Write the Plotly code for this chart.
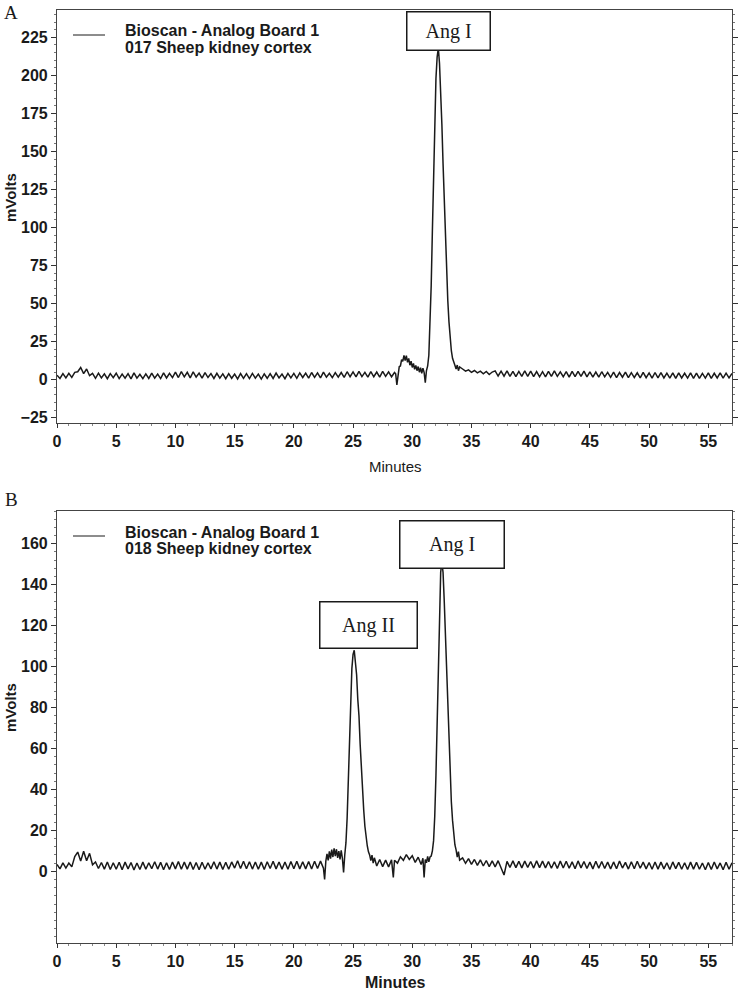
import plotly.graph_objects as go

# ---------------- data ----------------
# Panel A : 017 Sheep kidney cortex
time_a_base = [0, 0.25, 0.5, 0.75, 1, 1.25, 1.5, 1.75, 2, 2.25, 2.5, 2.75,
               3, 3.25, 3.5, 3.75, 4, 4.25, 4.5, 4.75, 5, 5.25, 5.5, 5.75,
               6, 6.25, 6.5, 6.75, 7, 7.25, 7.5, 7.75, 8, 8.25, 8.5, 8.75,
               9, 9.25, 9.5, 9.75, 10, 10.25, 10.5, 10.75, 11, 11.25, 11.5, 11.75,
               12, 12.25, 12.5, 12.75, 13, 13.25, 13.5, 13.75, 14, 14.25, 14.5, 14.75,
               15, 15.25, 15.5, 15.75, 16, 16.25, 16.5, 16.75, 17, 17.25, 17.5, 17.75,
               18, 18.25, 18.5, 18.75, 19, 19.25, 19.5, 19.75, 20, 20.25, 20.5, 20.75,
               21, 21.25, 21.5, 21.75, 22, 22.25, 22.5, 22.75, 23, 23.25, 23.5, 23.75,
               24, 24.25, 24.5, 24.75, 25, 25.25, 25.5, 25.75, 26, 26.25, 26.5, 26.75,
               27, 27.25, 27.5, 27.75, 28, 28.25, 28.5]
mv_a_base = [2.9, 0.8, 4.0, 1.2, 4.2, 1.5, 4.8, 5.2, 8.0, 4.0, 7.0, 2.6,
             4.1, 0.9, 4.3, 1.1, 3.8, 0.6, 4.0, 1.3, 4.2, 0.7, 3.6, 0.9,
             3.9, 0.5, 4.4, 1.0, 3.5, 0.6, 3.8, 0.8, 4.3, 1.0, 3.7, 0.7,
             4.5, 1.1, 4.1, 1.3, 5.0, 1.4, 5.3, 1.8, 4.8, 1.2, 5.1, 1.7,
             4.3, 1.0, 4.6, 1.4, 4.0, 0.8, 4.2, 1.0, 3.8, 0.6, 3.9, 0.9,
             3.7, 0.5, 4.0, 0.8, 3.9, 0.7, 4.1, 1.0, 3.6, 0.4, 3.8, 0.9,
             4.0, 0.8, 4.3, 1.1, 3.7, 0.6, 4.1, 1.2, 4.1, 0.9, 4.4, 1.4,
             4.3, 1.0, 4.7, 1.5, 4.5, 1.2, 4.9, 1.6, 4.2, 1.3, 4.6, 1.7,
             4.7, 1.5, 5.2, 1.9, 5.1, 1.8, 5.5, 2.0, 4.8, 1.6, 5.3, 1.9,
             5.0, 1.7, 5.4, 2.1, 5.1, 1.9, 4.7]
time_a_peak = [28.6, 28.7, 28.8, 28.9, 29.0, 29.1, 29.2, 29.3, 29.4, 29.5,
               29.6, 29.7, 29.8, 29.9, 30.0, 30.1, 30.2, 30.3, 30.4, 30.5,
               30.6, 30.7, 30.8, 30.9, 31.0, 31.1, 31.2, 31.3, 31.4, 31.5,
               31.6, 31.7, 31.8, 31.9, 32.0, 32.1, 32.2, 32.3, 32.4, 32.5,
               32.6, 32.7, 32.8, 32.9, 33.0, 33.1, 33.2, 33.3, 33.4, 33.5,
               33.6, 33.7, 33.8, 33.9, 34.0]
mv_a_peak = [3.8, -3.5, 5.0, 8.5, 9.0, 13.2, 12.0, 16.0, 12.6, 15.8,
             11.4, 14.0, 9.5, 12.2, 8.0, 10.6, 6.8, 9.4, 5.9, 8.6,
             4.9, 7.8, 4.2, 7.5, 4.8, -2.0, 6.0, 9.0, 16.0, 35.0,
             62.0, 98.0, 135.0, 170.0, 198.0, 212.0, 218.0, 208.0, 192.0, 168.0,
             142.0, 116.0, 92.0, 70.0, 52.0, 38.0, 27.0, 19.0, 14.0, 11.0,
             9.5, 7.0, 9.6, 5.9, 8.4]
time_a_tail = [34.25, 34.5, 34.75, 35, 35.25, 35.5, 35.75, 36, 36.25, 36.5, 36.75,
               37, 37.25, 37.5, 37.75, 38, 38.25, 38.5, 38.75, 39, 39.25, 39.5, 39.75,
               40, 40.25, 40.5, 40.75, 41, 41.25, 41.5, 41.75, 42, 42.25, 42.5, 42.75,
               43, 43.25, 43.5, 43.75, 44, 44.25, 44.5, 44.75, 45, 45.25, 45.5, 45.75,
               46, 46.25, 46.5, 46.75, 47, 47.25, 47.5, 47.75, 48, 48.25, 48.5, 48.75,
               49, 49.25, 49.5, 49.75, 50, 50.25, 50.5, 50.75, 51, 51.25, 51.5, 51.75,
               52, 52.25, 52.5, 52.75, 53, 53.25, 53.5, 53.75, 54, 54.25, 54.5, 54.75,
               55, 55.25, 55.5, 55.75, 56, 56.25, 56.5, 56.75, 57]
mv_a_tail = [7.0, 5.6, 6.4, 4.8, 6.0, 4.4, 5.6, 3.8, 5.4, 3.4, 5.0,
             5.8, 2.4, 5.6, 2.3, 5.7, 2.2, 5.5, 2.0, 5.4, 2.1, 5.7, 2.2,
             5.6, 2.0, 5.3, 1.9, 5.2, 1.8, 5.5, 2.1, 5.7, 2.2, 5.1, 1.9,
             5.3, 1.7, 5.4, 2.0, 5.5, 2.1, 5.6, 1.8, 5.1, 1.6, 5.0, 1.7,
             5.2, 1.8, 4.8, 1.5, 4.9, 1.4, 4.7, 1.6, 5.0, 1.3, 4.6, 1.4,
             4.5, 1.2, 4.8, 1.3, 4.4, 1.0, 4.7, 1.2, 4.6, 1.1, 4.3, 1.0,
             4.5, 0.9, 4.4, 1.1, 4.2, 1.0, 4.5, 0.9, 4.3, 0.8, 4.1, 1.0,
             4.4, 0.9, 4.2, 1.1, 4.5, 1.0, 4.3, 1.2, 4.1]

# Panel B : 018 Sheep kidney cortex
time_b_base = [0, 0.25, 0.5, 0.75, 1, 1.25, 1.5, 1.75, 2, 2.25, 2.5, 2.75,
               3, 3.25, 3.5, 3.75, 4, 4.25, 4.5, 4.75, 5, 5.25, 5.5, 5.75,
               6, 6.25, 6.5, 6.75, 7, 7.25, 7.5, 7.75, 8, 8.25, 8.5, 8.75,
               9, 9.25, 9.5, 9.75, 10, 10.25, 10.5, 10.75, 11, 11.25, 11.5, 11.75,
               12, 12.25, 12.5, 12.75, 13, 13.25, 13.5, 13.75, 14, 14.25, 14.5, 14.75,
               15, 15.25, 15.5, 15.75, 16, 16.25, 16.5, 16.75, 17, 17.25, 17.5, 17.75,
               18, 18.25, 18.5, 18.75, 19, 19.25, 19.5, 19.75, 20, 20.25, 20.5, 20.75,
               21, 21.25, 21.5, 21.75, 22, 22.25, 22.5]
mv_b_base = [3.4, 1.2, 4.1, 1.6, 4.0, 2.2, 7.2, 9.4, 5.0, 9.8, 5.2, 8.8,
             3.2, 4.6, 1.4, 4.3, 1.1, 4.6, 0.9, 4.2, 1.0, 4.4, 0.8, 4.5,
             1.2, 4.3, 0.7, 4.1, 0.9, 4.5, 1.0, 4.2, 1.3, 4.7, 1.1, 4.4,
             0.8, 4.2, 0.9, 4.6, 1.2, 4.8, 1.0, 4.5, 1.1, 4.6, 0.9, 4.3,
             0.8, 4.4, 1.0, 4.2, 1.2, 4.7, 1.1, 4.5, 0.9, 4.4, 1.0, 4.6,
             1.6, 5.2, 1.4, 4.9, 1.3, 4.7, 1.1, 4.6, 1.0, 4.5, 0.9, 4.7,
             1.4, 4.9, 1.2, 4.6, 1.1, 4.6, 1.0, 4.8, 1.3, 4.9, 1.2, 4.7,
             1.2, 4.8, 1.1, 4.9, 1.4, 5.0, 1.5]
time_b_ang2 = [22.6, 22.7, 22.8, 22.9, 23.0, 23.1, 23.2, 23.3, 23.4, 23.5,
               23.6, 23.7, 23.8, 23.9, 24.0, 24.1, 24.2, 24.3, 24.4, 24.5,
               24.6, 24.7, 24.8, 24.9, 25.0, 25.1, 25.2, 25.3, 25.4, 25.5,
               25.6, 25.7, 25.8, 25.9, 26.0, 26.1, 26.2, 26.3, 26.4, 26.5,
               26.6, 26.7, 26.8]
mv_b_ang2 = [-4.0, 5.0, 8.5, 5.4, 9.8, 6.2, 10.6, 7.0, 11.2, 7.4,
             10.8, 6.6, 9.9, 5.8, 10.2, 6.4, -0.5, 8.0, 14.0, 26.0,
             45.0, 66.0, 85.0, 99.0, 106.0, 108.0, 102.0, 96.0, 84.0, 76.0,
             62.0, 50.0, 39.0, 30.0, 22.0, 16.5, 12.5, 9.5, 8.0, 5.2,
             7.9, 4.0, 6.6]
time_b_mid = [27.0, 27.25, 27.5, 27.75, 28.0, 28.25, 28.4, 28.5, 28.75, 29.0,
              29.25, 29.5, 29.75, 30.0, 30.25, 30.5, 30.75, 30.9, 31.0, 31.1]
mv_b_mid = [2.6, 5.8, 2.3, 5.5, 2.2, 5.6, -3.0, 5.4, 4.0, 7.1,
            5.4, 8.2, 5.8, 7.6, 4.4, 6.9, 3.3, 6.4, -3.0, 5.8]
time_b_ang1 = [31.2, 31.3, 31.4, 31.5, 31.6, 31.7, 31.8, 31.9, 32.0, 32.1,
               32.2, 32.3, 32.4, 32.5, 32.6, 32.7, 32.8, 32.9, 33.0, 33.1,
               33.2, 33.3, 33.4, 33.5, 33.6, 33.7, 33.8, 33.9, 34.0]
mv_b_ang1 = [4.2, 7.3, 4.6, 7.0, 7.5, 10.0, 15.0, 27.0, 47.0, 75.0,
             105.0, 130.0, 146.0, 151.0, 146.0, 132.0, 115.0, 96.0, 78.0, 61.0,
             46.0, 34.0, 25.0, 18.0, 13.0, 10.5, 7.0, 9.6, 5.5]
time_b_tail = [34.25, 34.5, 34.75, 35, 35.25, 35.5, 35.75, 36, 36.25, 36.5, 36.75,
               37, 37.25, 37.5, 37.75, 38, 38.25, 38.5, 38.75, 39, 39.25, 39.5, 39.75,
               40, 40.25, 40.5, 40.75, 41, 41.25, 41.5, 41.75, 42, 42.25, 42.5, 42.75,
               43, 43.25, 43.5, 43.75, 44, 44.25, 44.5, 44.75, 45, 45.25, 45.5, 45.75,
               46, 46.25, 46.5, 46.75, 47, 47.25, 47.5, 47.75, 48, 48.25, 48.5, 48.75,
               49, 49.25, 49.5, 49.75, 50, 50.25, 50.5, 50.75, 51, 51.25, 51.5, 51.75,
               52, 52.25, 52.5, 52.75, 53, 53.25, 53.5, 53.75, 54, 54.25, 54.5, 54.75,
               55, 55.25, 55.5, 55.75, 56, 56.25, 56.5, 56.75, 57]
mv_b_tail = [6.6, 3.9, 6.2, 3.4, 5.8, 2.9, 5.6, 2.6, 5.3, 2.3, 5.1,
             2.2, 5.2, 2.0, -1.8, 4.9, 1.9, 5.1, 1.8, 4.9, 1.7, 5.0, 1.9,
             4.8, 1.6, 5.1, 1.8, 5.0, 1.7, 4.8, 1.5, 4.7, 1.4, 5.0, 1.6,
             4.9, 1.5, 4.6, 1.3, 5.1, 1.7, 4.8, 1.4, 4.5, 1.2, 4.9, 1.5,
             4.8, 1.4, 4.5, 1.2, 4.6, 1.3, 5.0, 1.6, 4.4, 1.1, 4.7, 1.3,
             4.9, 1.5, 4.5, 1.2, 4.3, 1.0, 4.6, 1.1, 4.5, 1.2, 4.2, 0.9,
             4.6, 1.3, 4.4, 1.0, 4.2, 0.9, 4.5, 1.1, 4.4, 1.0, 4.1, 0.8,
             4.3, 0.9, 4.6, 1.2, 4.1, 0.8, 4.4, 1.0, 4.2]

x_ticks = [0, 5, 10, 15, 20, 25, 30, 35, 40, 45, 50, 55]
y_ticks_a = [-25, 0, 25, 50, 75, 100, 125, 150, 175, 200, 225]
y_ticks_b = [0, 20, 40, 60, 80, 100, 120, 140, 160]
legend_line1 = "Bioscan - Analog Board 1"
legend_a = "017 Sheep kidney cortex"
legend_b = "018 Sheep kidney cortex"
x_title = "Minutes"
y_title = "mVolts"

time_a = time_a_base + time_a_peak + time_a_tail
mv_a = mv_a_base + mv_a_peak + mv_a_tail
time_b = time_b_base + time_b_ang2 + time_b_mid + time_b_ang1 + time_b_tail
mv_b = mv_b_base + mv_b_ang2 + mv_b_mid + mv_b_ang1 + mv_b_tail

# ---------------- layout geometry ----------------
W, H = 748, 991
ML, MR, MT, MB = 57, 16, 10, 48
PW, PH = W - ML - MR, H - MT - MB


def px(x):
    return (x - ML) / PW


def py(y):
    return (H - MB - y) / PH


SANS = "Liberation Sans, Arial, sans-serif"
SERIF = "Liberation Serif, Times New Roman, serif"
INK = "#1a1a1a"

fig = go.Figure()
fig.add_trace(go.Scatter(x=time_a, y=mv_a, mode="lines", xaxis="x", yaxis="y",
                         line=dict(color=INK, width=1.5), showlegend=False))
fig.add_trace(go.Scatter(x=time_b, y=mv_b, mode="lines", xaxis="x2", yaxis="y2",
                         line=dict(color=INK, width=1.5), showlegend=False))

tick_font = dict(family=SANS, size=16, color=INK, weight="bold")


def xaxis_cfg(anchor):
    return dict(anchor=anchor, domain=[0, 1], range=[0, 57], tickvals=x_ticks,
                ticks="outside", ticklen=4, tickwidth=1, tickcolor="#333",
                showline=True, linecolor="#444", linewidth=1.2, mirror=True,
                showgrid=False, zeroline=False, tickfont=tick_font,
                minor=dict(dtick=1, ticks="outside", ticklen=2, tickcolor="#888"))


def yaxis_cfg(anchor, dom, rng, vals, minor):
    return dict(anchor=anchor, domain=dom, range=rng, tickvals=vals,
                ticks="outside", ticklen=5, tickwidth=1, tickcolor="#333",
                showline=True, linecolor="#444", linewidth=1.2, mirror="ticks",
                showgrid=False, zeroline=False, tickfont=tick_font,
                minor=dict(dtick=minor, ticks="outside", ticklen=2, tickcolor="#777"))


fig.update_layout(
    width=W, height=H, margin=dict(l=ML, r=MR, t=MT, b=MB),
    paper_bgcolor="white", plot_bgcolor="white",
    xaxis=xaxis_cfg("y"),
    yaxis=yaxis_cfg("x", [py(423), 1], [-28.5, 243], y_ticks_a, 5),
    xaxis2=xaxis_cfg("y2"),
    yaxis2=yaxis_cfg("x2", [0, py(511)], [-35, 176], y_ticks_b, 4),
    showlegend=False,
)

ann = []
# panel letters
ann.append(dict(text="A", x=px(11), y=py(12), font=dict(family=SERIF, size=19, color=INK)))
ann.append(dict(text="B", x=px(11), y=py(500), font=dict(family=SERIF, size=19, color=INK)))
# axis titles
ann.append(dict(text=y_title, x=px(10), y=py(198), textangle=-90,
                font=dict(family=SANS, size=15, color=INK, weight="bold")))
ann.append(dict(text=y_title, x=px(10), y=py(708), textangle=-90,
                font=dict(family=SANS, size=15, color=INK, weight="bold")))
ann.append(dict(text=x_title, x=px(395), y=py(467),
                font=dict(family=SANS, size=15, color=INK)))
ann.append(dict(text=x_title, x=px(395), y=py(982),
                font=dict(family=SANS, size=16, color=INK, weight="bold")))
# legend texts
for top, lab in [(0, legend_a), (501, legend_b)]:
    ann.append(dict(text=legend_line1, x=px(123), y=py(31 + top), xanchor="left",
                    font=dict(family=SANS, size=16, color=INK, weight="bold")))
    ann.append(dict(text=lab, x=px(123), y=py(48 + top), xanchor="left",
                    font=dict(family=SANS, size=16, color=INK, weight="bold")))
# peak label boxes
boxes = [("Ang I", 448.5, 31, 82, 37),
         ("Ang I", 452, 544.5, 103, 46),
         ("Ang II", 368.5, 625, 96, 45)]
for txt, cx, cy, bw, bh in boxes:
    ann.append(dict(text=txt, x=px(cx), y=py(cy), width=bw, height=bh,
                    bordercolor=INK, borderwidth=1.5, borderpad=0, bgcolor="white",
                    font=dict(family=SERIF, size=20, color=INK)))
for a in ann:
    a.setdefault("xanchor", "center")
    a.update(xref="paper", yref="paper", yanchor="middle", showarrow=False)
fig.update_layout(annotations=ann)

# legend sample lines
for top in [0, 501]:
    fig.add_shape(type="line", xref="paper", yref="paper",
                  x0=px(73), x1=px(105), y0=py(35 + top), y1=py(35 + top),
                  line=dict(color=INK, width=1))

fig.write_html("out.html", config={"displayModeBar": False},
               post_script="document.body.style.margin='0';")
